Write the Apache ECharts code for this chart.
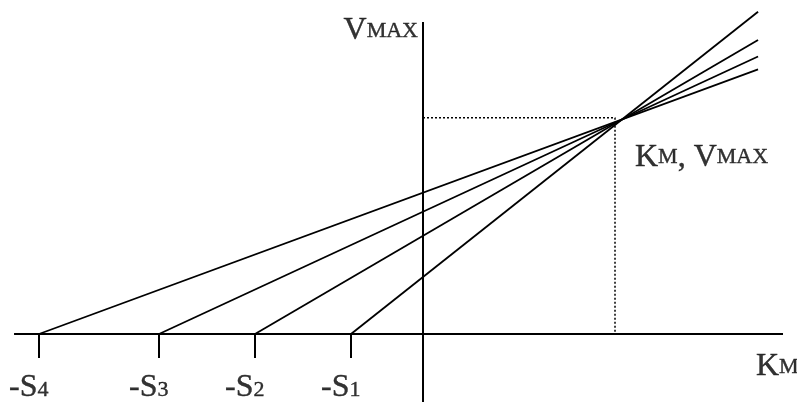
<!DOCTYPE html>
<html><head><meta charset="utf-8">
<script src="https://cdn.jsdelivr.net/npm/echarts@6/dist/echarts.min.js"></script>
<style>html,body{margin:0;padding:0;background:#fff}#chart{width:797px;height:402px}</style>
</head><body><div id="chart"></div>
<script>
// Direct linear plot: every substrate concentration S_i gives a line
// from (-S_i, 0) through the common point (Km, Vmax).
const substrate = [3, 7, 11, 16];            // S1 .. S4
const substrateIndex = ['1', '2', '3', '4'];
const km = 8.29;                             // common intersection
const vmax = 10.0;
const guideKm = 8.0;                         // dotted read-off lines
const guideVmax = 10.08;
const lineEndX = 13.96;                      // where the lines stop on the right
const xAxisSpan = [-17.04, 15.0];
const yAxisSpan = [-3.2, 14.55];
const tickDepth = 1.12;
const xView = [-17.625, 15.583];
const yView = [-3.17, 15.571];

const FONT = '"Liberation Serif", "Times New Roman", serif';
const BIG = 32, SMALL = 22;

function solid(data, width) {
  return { type: 'line', data, symbol: 'none', silent: true, animation: false,
           lineStyle: { color: '#000', width: width, type: 'solid' } };
}

const series = [];
// axes
series.push(solid([[xAxisSpan[0], 0], [xAxisSpan[1], 0]], 2));
series.push(solid([[0, yAxisSpan[0]], [0, yAxisSpan[1]]], 2));
// ticks and lines
substrate.forEach(s => {
  series.push(solid([[-s, 0], [-s, -tickDepth]], 2));
  series.push(solid([[-s, 0], [lineEndX, vmax * (lineEndX + s) / (km + s)]], 1.8));
});
// dotted guides
series.push({ type: 'line', data: [[0, guideVmax], [guideKm, guideVmax], [guideKm, 0]],
  symbol: 'none', silent: true, animation: false,
  lineStyle: { color: '#000', width: 1.5, type: [2, 2] } });

function txt(size, extra) {
  return Object.assign({ fontFamily: FONT, fontSize: size, color: '#000',
                         textBorderColor: '#000', textBorderWidth: 0.4 }, extra || {});
}
const rich = {
  m: txt(BIG),
  s: txt(SMALL),
  // "-S" raised so that the index digit sits below its baseline
  r: txt(BIG, { padding: [0, 0, 4, 0] }),
  d: txt(SMALL)
};
function labelPoint(x, y, text, pos, align) {
  return { value: [x, y], label: { show: true, formatter: text, position: pos,
           align: align, verticalAlign: 'bottom', rich: rich } };
}
const labels = [
  labelPoint(0, yAxisSpan[1], '{m|V}{s|MAX}', [-5, 25], 'right'),
  labelPoint(km, vmax, '{m|K}{s|M}{m|, V}{s|MAX}', [13, 54], 'left'),
  labelPoint(xAxisSpan[1], 0, '{m|K}{s|M}', [-27, 49], 'left')
];
substrate.forEach((s, i) => {
  labels.push(labelPoint(-s, 0, '{r|-S}{d|' + substrateIndex[i] + '}', [-30, 74], 'left'));
});
series.push({ type: 'scatter', data: labels, symbolSize: 0, silent: true, animation: false });

const chart = echarts.init(document.getElementById('chart'));
chart.setOption({
  backgroundColor: '#fff',
  animation: false,
  grid: { left: 0, right: 0, top: 0, bottom: 0, containLabel: false },
  xAxis: { type: 'value', min: xView[0], max: xView[1], show: false },
  yAxis: { type: 'value', min: yView[0], max: yView[1], show: false },
  series: series
});
</script></body></html>
